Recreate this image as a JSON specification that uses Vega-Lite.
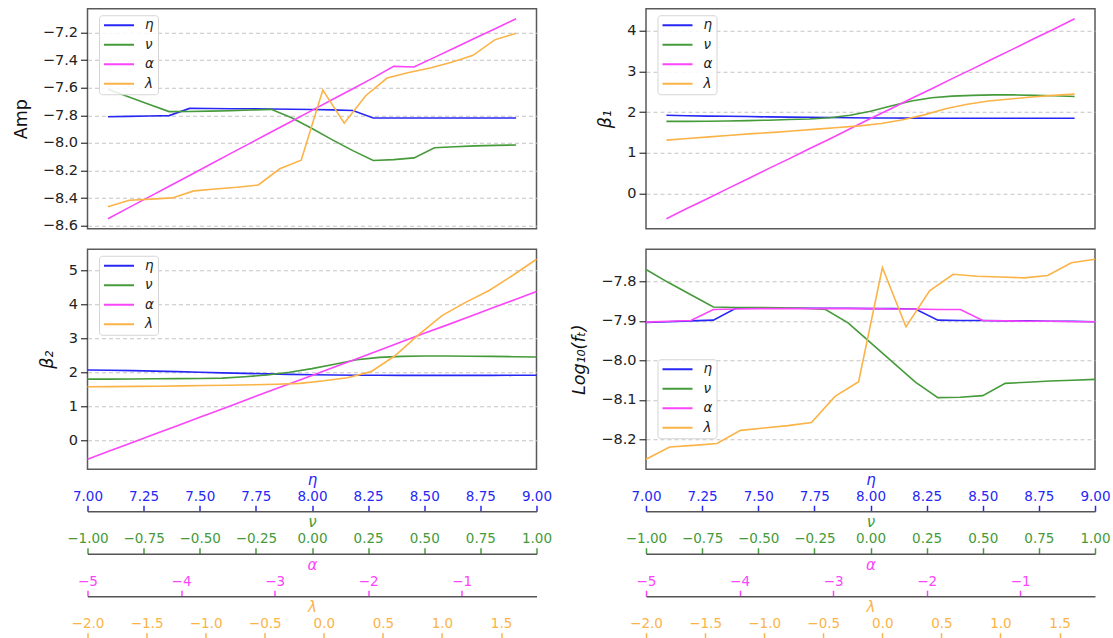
{
  "$schema": "https://vega.github.io/schema/vega-lite/v6.json",
  "background": "white",
  "padding": {"left": 11.5, "top": 7.75, "right": 2, "bottom": 0},
  "config": {
    "font": "DejaVu Sans",
    "view": {"stroke": "#5a5a5a", "strokeWidth": 1.5},
    "axisY": {
      "domain": false, "tickSize": 7, "tickColor": "#333333", "tickWidth": 1.2,
      "labelFontSize": 14.5, "labelColor": "#222222", "labelPadding": 3,
      "grid": true, "gridDash": [4, 3], "gridColor": "#c4c4c4", "gridWidth": 1,
      "titleFontSize": 17.5, "titleFontWeight": "normal", "titleColor": "#111111",
      "titlePadding": 12, "titleFontStyle": "italic"
    },
    "axisX": {
      "labelFontSize": 13.5, "tickSize": 6, "tickWidth": 1.5, "labelPadding": 2,
      "domainColor": "#555555", "domainWidth": 1.5, "grid": false,
      "labelFlush": false, "labelOverlap": false,
      "titleFontSize": 15, "titleFontWeight": "normal", "titleFontStyle": "italic", "titlePadding": 2
    },
    "legend": {
      "title": null, "symbolType": "stroke", "symbolSize": 900, "symbolStrokeWidth": 2,
      "labelFont": "DejaVu Sans", "labelFontStyle": "italic", "labelFontSize": 13.5, "labelColor": "#222222",
      "labelOffset": 10, "padding": 4, "rowPadding": 5.5, "clipHeight": 12,
      "strokeColor": "#d5d5d5", "fillColor": "rgba(255,255,255,0.85)", "cornerRadius": 3
    }
  },
  "datasets": {
    "curves": [
      {"panel":"Amp","series":"η","x":7.0,"y":-7.810},{"panel":"Amp","series":"η","x":7.1,"y":-7.808},{"panel":"Amp","series":"η","x":7.2,"y":-7.805},{"panel":"Amp","series":"η","x":7.3,"y":-7.802},{"panel":"Amp","series":"η","x":7.4,"y":-7.750},{"panel":"Amp","series":"η","x":7.5,"y":-7.751},{"panel":"Amp","series":"η","x":7.6,"y":-7.752},{"panel":"Amp","series":"η","x":7.7,"y":-7.753},{"panel":"Amp","series":"η","x":7.8,"y":-7.754},{"panel":"Amp","series":"η","x":7.9,"y":-7.756},{"panel":"Amp","series":"η","x":8.0,"y":-7.758},{"panel":"Amp","series":"η","x":8.1,"y":-7.761},{"panel":"Amp","series":"η","x":8.2,"y":-7.765},{"panel":"Amp","series":"η","x":8.3,"y":-7.820},{"panel":"Amp","series":"η","x":8.4,"y":-7.820},{"panel":"Amp","series":"η","x":8.5,"y":-7.820},{"panel":"Amp","series":"η","x":8.6,"y":-7.820},{"panel":"Amp","series":"η","x":8.7,"y":-7.820},{"panel":"Amp","series":"η","x":8.8,"y":-7.820},{"panel":"Amp","series":"η","x":8.9,"y":-7.820},{"panel":"Amp","series":"η","x":9.0,"y":-7.820},
      {"panel":"Amp","series":"ν","x":7.0,"y":-7.612},{"panel":"Amp","series":"ν","x":7.1,"y":-7.665},{"panel":"Amp","series":"ν","x":7.2,"y":-7.720},{"panel":"Amp","series":"ν","x":7.3,"y":-7.773},{"panel":"Amp","series":"ν","x":7.4,"y":-7.772},{"panel":"Amp","series":"ν","x":7.5,"y":-7.770},{"panel":"Amp","series":"ν","x":7.6,"y":-7.767},{"panel":"Amp","series":"ν","x":7.7,"y":-7.762},{"panel":"Amp","series":"ν","x":7.8,"y":-7.757},{"panel":"Amp","series":"ν","x":7.9,"y":-7.818},{"panel":"Amp","series":"ν","x":8.0,"y":-7.896},{"panel":"Amp","series":"ν","x":8.1,"y":-7.978},{"panel":"Amp","series":"ν","x":8.2,"y":-8.056},{"panel":"Amp","series":"ν","x":8.3,"y":-8.128},{"panel":"Amp","series":"ν","x":8.4,"y":-8.121},{"panel":"Amp","series":"ν","x":8.5,"y":-8.109},{"panel":"Amp","series":"ν","x":8.6,"y":-8.035},{"panel":"Amp","series":"ν","x":8.7,"y":-8.028},{"panel":"Amp","series":"ν","x":8.8,"y":-8.022},{"panel":"Amp","series":"ν","x":8.9,"y":-8.018},{"panel":"Amp","series":"ν","x":9.0,"y":-8.015},
      {"panel":"Amp","series":"α","x":7.0,"y":-8.550},{"panel":"Amp","series":"α","x":7.1,"y":-8.471},{"panel":"Amp","series":"α","x":7.2,"y":-8.393},{"panel":"Amp","series":"α","x":7.3,"y":-8.314},{"panel":"Amp","series":"α","x":7.4,"y":-8.236},{"panel":"Amp","series":"α","x":7.5,"y":-8.157},{"panel":"Amp","series":"α","x":7.6,"y":-8.078},{"panel":"Amp","series":"α","x":7.7,"y":-8.000},{"panel":"Amp","series":"α","x":7.8,"y":-7.921},{"panel":"Amp","series":"α","x":7.9,"y":-7.843},{"panel":"Amp","series":"α","x":8.0,"y":-7.764},{"panel":"Amp","series":"α","x":8.1,"y":-7.686},{"panel":"Amp","series":"α","x":8.2,"y":-7.607},{"panel":"Amp","series":"α","x":8.3,"y":-7.529},{"panel":"Amp","series":"α","x":8.4,"y":-7.445},{"panel":"Amp","series":"α","x":8.5,"y":-7.450},{"panel":"Amp","series":"α","x":8.6,"y":-7.380},{"panel":"Amp","series":"α","x":8.7,"y":-7.310},{"panel":"Amp","series":"α","x":8.8,"y":-7.240},{"panel":"Amp","series":"α","x":8.9,"y":-7.170},{"panel":"Amp","series":"α","x":9.0,"y":-7.100},
      {"panel":"Amp","series":"λ","x":7.0,"y":-8.463},{"panel":"Amp","series":"λ","x":7.105,"y":-8.416},{"panel":"Amp","series":"λ","x":7.211,"y":-8.408},{"panel":"Amp","series":"λ","x":7.316,"y":-8.399},{"panel":"Amp","series":"λ","x":7.421,"y":-8.348},{"panel":"Amp","series":"λ","x":7.526,"y":-8.334},{"panel":"Amp","series":"λ","x":7.632,"y":-8.322},{"panel":"Amp","series":"λ","x":7.737,"y":-8.305},{"panel":"Amp","series":"λ","x":7.842,"y":-8.188},{"panel":"Amp","series":"λ","x":7.947,"y":-8.126},{"panel":"Amp","series":"λ","x":8.053,"y":-7.617},{"panel":"Amp","series":"λ","x":8.158,"y":-7.857},{"panel":"Amp","series":"λ","x":8.263,"y":-7.658},{"panel":"Amp","series":"λ","x":8.368,"y":-7.530},{"panel":"Amp","series":"λ","x":8.474,"y":-7.490},{"panel":"Amp","series":"λ","x":8.579,"y":-7.457},{"panel":"Amp","series":"λ","x":8.684,"y":-7.416},{"panel":"Amp","series":"λ","x":8.789,"y":-7.365},{"panel":"Amp","series":"λ","x":8.895,"y":-7.253},{"panel":"Amp","series":"λ","x":9.0,"y":-7.205},

      {"panel":"B1","series":"η","x":7.0,"y":1.92},{"panel":"B1","series":"η","x":7.1,"y":1.91},{"panel":"B1","series":"η","x":7.2,"y":1.90},{"panel":"B1","series":"η","x":7.3,"y":1.895},{"panel":"B1","series":"η","x":7.4,"y":1.89},{"panel":"B1","series":"η","x":7.5,"y":1.88},{"panel":"B1","series":"η","x":7.6,"y":1.875},{"panel":"B1","series":"η","x":7.7,"y":1.87},{"panel":"B1","series":"η","x":7.8,"y":1.865},{"panel":"B1","series":"η","x":7.9,"y":1.86},{"panel":"B1","series":"η","x":8.0,"y":1.855},{"panel":"B1","series":"η","x":8.1,"y":1.852},{"panel":"B1","series":"η","x":8.2,"y":1.85},{"panel":"B1","series":"η","x":8.3,"y":1.848},{"panel":"B1","series":"η","x":8.4,"y":1.847},{"panel":"B1","series":"η","x":8.5,"y":1.846},{"panel":"B1","series":"η","x":8.6,"y":1.846},{"panel":"B1","series":"η","x":8.7,"y":1.846},{"panel":"B1","series":"η","x":8.8,"y":1.846},{"panel":"B1","series":"η","x":8.9,"y":1.847},{"panel":"B1","series":"η","x":9.0,"y":1.848},
      {"panel":"B1","series":"ν","x":7.0,"y":1.77},{"panel":"B1","series":"ν","x":7.1,"y":1.77},{"panel":"B1","series":"ν","x":7.2,"y":1.775},{"panel":"B1","series":"ν","x":7.3,"y":1.78},{"panel":"B1","series":"ν","x":7.4,"y":1.79},{"panel":"B1","series":"ν","x":7.5,"y":1.80},{"panel":"B1","series":"ν","x":7.6,"y":1.815},{"panel":"B1","series":"ν","x":7.7,"y":1.83},{"panel":"B1","series":"ν","x":7.8,"y":1.86},{"panel":"B1","series":"ν","x":7.9,"y":1.92},{"panel":"B1","series":"ν","x":8.0,"y":2.02},{"panel":"B1","series":"ν","x":8.1,"y":2.15},{"panel":"B1","series":"ν","x":8.2,"y":2.27},{"panel":"B1","series":"ν","x":8.3,"y":2.35},{"panel":"B1","series":"ν","x":8.4,"y":2.39},{"panel":"B1","series":"ν","x":8.5,"y":2.41},{"panel":"B1","series":"ν","x":8.6,"y":2.42},{"panel":"B1","series":"ν","x":8.7,"y":2.42},{"panel":"B1","series":"ν","x":8.8,"y":2.41},{"panel":"B1","series":"ν","x":8.9,"y":2.40},{"panel":"B1","series":"ν","x":9.0,"y":2.38},
      {"panel":"B1","series":"α","x":7.0,"y":-0.62},{"panel":"B1","series":"α","x":7.1,"y":-0.37},{"panel":"B1","series":"α","x":7.2,"y":-0.13},{"panel":"B1","series":"α","x":7.3,"y":0.12},{"panel":"B1","series":"α","x":7.4,"y":0.36},{"panel":"B1","series":"α","x":7.5,"y":0.61},{"panel":"B1","series":"α","x":7.6,"y":0.85},{"panel":"B1","series":"α","x":7.7,"y":1.10},{"panel":"B1","series":"α","x":7.8,"y":1.34},{"panel":"B1","series":"α","x":7.9,"y":1.59},{"panel":"B1","series":"α","x":8.0,"y":1.84},{"panel":"B1","series":"α","x":8.1,"y":2.08},{"panel":"B1","series":"α","x":8.2,"y":2.33},{"panel":"B1","series":"α","x":8.3,"y":2.57},{"panel":"B1","series":"α","x":8.4,"y":2.82},{"panel":"B1","series":"α","x":8.5,"y":3.06},{"panel":"B1","series":"α","x":8.6,"y":3.31},{"panel":"B1","series":"α","x":8.7,"y":3.55},{"panel":"B1","series":"α","x":8.8,"y":3.80},{"panel":"B1","series":"α","x":8.9,"y":4.04},{"panel":"B1","series":"α","x":9.0,"y":4.29},
      {"panel":"B1","series":"λ","x":7.0,"y":1.31},{"panel":"B1","series":"λ","x":7.105,"y":1.35},{"panel":"B1","series":"λ","x":7.211,"y":1.39},{"panel":"B1","series":"λ","x":7.316,"y":1.43},{"panel":"B1","series":"λ","x":7.421,"y":1.47},{"panel":"B1","series":"λ","x":7.526,"y":1.50},{"panel":"B1","series":"λ","x":7.632,"y":1.54},{"panel":"B1","series":"λ","x":7.737,"y":1.58},{"panel":"B1","series":"λ","x":7.842,"y":1.62},{"panel":"B1","series":"λ","x":7.947,"y":1.66},{"panel":"B1","series":"λ","x":8.053,"y":1.72},{"panel":"B1","series":"λ","x":8.158,"y":1.81},{"panel":"B1","series":"λ","x":8.263,"y":1.93},{"panel":"B1","series":"λ","x":8.368,"y":2.08},{"panel":"B1","series":"λ","x":8.474,"y":2.19},{"panel":"B1","series":"λ","x":8.579,"y":2.27},{"panel":"B1","series":"λ","x":8.684,"y":2.32},{"panel":"B1","series":"λ","x":8.789,"y":2.37},{"panel":"B1","series":"λ","x":8.895,"y":2.41},{"panel":"B1","series":"λ","x":9.0,"y":2.44},

      {"panel":"B2","series":"η","x":7.0,"y":2.07},{"panel":"B2","series":"η","x":7.1,"y":2.06},{"panel":"B2","series":"η","x":7.2,"y":2.05},{"panel":"B2","series":"η","x":7.3,"y":2.035},{"panel":"B2","series":"η","x":7.4,"y":2.02},{"panel":"B2","series":"η","x":7.5,"y":2.00},{"panel":"B2","series":"η","x":7.6,"y":1.985},{"panel":"B2","series":"η","x":7.7,"y":1.97},{"panel":"B2","series":"η","x":7.8,"y":1.955},{"panel":"B2","series":"η","x":7.9,"y":1.94},{"panel":"B2","series":"η","x":8.0,"y":1.93},{"panel":"B2","series":"η","x":8.1,"y":1.92},{"panel":"B2","series":"η","x":8.2,"y":1.915},{"panel":"B2","series":"η","x":8.3,"y":1.912},{"panel":"B2","series":"η","x":8.4,"y":1.91},{"panel":"B2","series":"η","x":8.5,"y":1.91},{"panel":"B2","series":"η","x":8.6,"y":1.91},{"panel":"B2","series":"η","x":8.7,"y":1.91},{"panel":"B2","series":"η","x":8.8,"y":1.91},{"panel":"B2","series":"η","x":8.9,"y":1.912},{"panel":"B2","series":"η","x":9.0,"y":1.915},
      {"panel":"B2","series":"ν","x":7.0,"y":1.80},{"panel":"B2","series":"ν","x":7.1,"y":1.80},{"panel":"B2","series":"ν","x":7.2,"y":1.805},{"panel":"B2","series":"ν","x":7.3,"y":1.81},{"panel":"B2","series":"ν","x":7.4,"y":1.815},{"panel":"B2","series":"ν","x":7.5,"y":1.82},{"panel":"B2","series":"ν","x":7.6,"y":1.83},{"panel":"B2","series":"ν","x":7.7,"y":1.87},{"panel":"B2","series":"ν","x":7.8,"y":1.92},{"panel":"B2","series":"ν","x":7.9,"y":2.00},{"panel":"B2","series":"ν","x":8.0,"y":2.11},{"panel":"B2","series":"ν","x":8.1,"y":2.24},{"panel":"B2","series":"ν","x":8.2,"y":2.37},{"panel":"B2","series":"ν","x":8.3,"y":2.44},{"panel":"B2","series":"ν","x":8.4,"y":2.47},{"panel":"B2","series":"ν","x":8.5,"y":2.48},{"panel":"B2","series":"ν","x":8.6,"y":2.48},{"panel":"B2","series":"ν","x":8.7,"y":2.475},{"panel":"B2","series":"ν","x":8.8,"y":2.47},{"panel":"B2","series":"ν","x":8.9,"y":2.46},{"panel":"B2","series":"ν","x":9.0,"y":2.45},
      {"panel":"B2","series":"α","x":7.0,"y":-0.56},{"panel":"B2","series":"α","x":7.1,"y":-0.31},{"panel":"B2","series":"α","x":7.2,"y":-0.07},{"panel":"B2","series":"α","x":7.3,"y":0.18},{"panel":"B2","series":"α","x":7.4,"y":0.43},{"panel":"B2","series":"α","x":7.5,"y":0.68},{"panel":"B2","series":"α","x":7.6,"y":0.92},{"panel":"B2","series":"α","x":7.7,"y":1.17},{"panel":"B2","series":"α","x":7.8,"y":1.42},{"panel":"B2","series":"α","x":7.9,"y":1.66},{"panel":"B2","series":"α","x":8.0,"y":1.91},{"panel":"B2","series":"α","x":8.1,"y":2.16},{"panel":"B2","series":"α","x":8.2,"y":2.40},{"panel":"B2","series":"α","x":8.3,"y":2.65},{"panel":"B2","series":"α","x":8.4,"y":2.90},{"panel":"B2","series":"α","x":8.5,"y":3.15},{"panel":"B2","series":"α","x":8.6,"y":3.39},{"panel":"B2","series":"α","x":8.7,"y":3.64},{"panel":"B2","series":"α","x":8.8,"y":3.89},{"panel":"B2","series":"α","x":8.9,"y":4.13},{"panel":"B2","series":"α","x":9.0,"y":4.38},
      {"panel":"B2","series":"λ","x":7.0,"y":1.575},{"panel":"B2","series":"λ","x":7.105,"y":1.58},{"panel":"B2","series":"λ","x":7.211,"y":1.585},{"panel":"B2","series":"λ","x":7.316,"y":1.59},{"panel":"B2","series":"λ","x":7.421,"y":1.60},{"panel":"B2","series":"λ","x":7.526,"y":1.61},{"panel":"B2","series":"λ","x":7.632,"y":1.62},{"panel":"B2","series":"λ","x":7.737,"y":1.635},{"panel":"B2","series":"λ","x":7.842,"y":1.65},{"panel":"B2","series":"λ","x":7.947,"y":1.675},{"panel":"B2","series":"λ","x":8.053,"y":1.75},{"panel":"B2","series":"λ","x":8.158,"y":1.84},{"panel":"B2","series":"λ","x":8.263,"y":2.02},{"panel":"B2","series":"λ","x":8.368,"y":2.48},{"panel":"B2","series":"λ","x":8.474,"y":3.10},{"panel":"B2","series":"λ","x":8.579,"y":3.67},{"panel":"B2","series":"λ","x":8.684,"y":4.06},{"panel":"B2","series":"λ","x":8.789,"y":4.41},{"panel":"B2","series":"λ","x":8.895,"y":4.86},{"panel":"B2","series":"λ","x":9.0,"y":5.33},

      {"panel":"Log","series":"η","x":7.0,"y":-7.904},{"panel":"Log","series":"η","x":7.1,"y":-7.902},{"panel":"Log","series":"η","x":7.2,"y":-7.900},{"panel":"Log","series":"η","x":7.3,"y":-7.898},{"panel":"Log","series":"η","x":7.4,"y":-7.868},{"panel":"Log","series":"η","x":7.5,"y":-7.868},{"panel":"Log","series":"η","x":7.6,"y":-7.868},{"panel":"Log","series":"η","x":7.7,"y":-7.868},{"panel":"Log","series":"η","x":7.8,"y":-7.868},{"panel":"Log","series":"η","x":7.9,"y":-7.868},{"panel":"Log","series":"η","x":8.0,"y":-7.869},{"panel":"Log","series":"η","x":8.1,"y":-7.869},{"panel":"Log","series":"η","x":8.2,"y":-7.870},{"panel":"Log","series":"η","x":8.3,"y":-7.898},{"panel":"Log","series":"η","x":8.4,"y":-7.899},{"panel":"Log","series":"η","x":8.5,"y":-7.899},{"panel":"Log","series":"η","x":8.6,"y":-7.900},{"panel":"Log","series":"η","x":8.7,"y":-7.900},{"panel":"Log","series":"η","x":8.8,"y":-7.901},{"panel":"Log","series":"η","x":8.9,"y":-7.901},{"panel":"Log","series":"η","x":9.0,"y":-7.902},
      {"panel":"Log","series":"ν","x":7.0,"y":-7.770},{"panel":"Log","series":"ν","x":7.1,"y":-7.803},{"panel":"Log","series":"ν","x":7.2,"y":-7.834},{"panel":"Log","series":"ν","x":7.3,"y":-7.865},{"panel":"Log","series":"ν","x":7.4,"y":-7.866},{"panel":"Log","series":"ν","x":7.5,"y":-7.866},{"panel":"Log","series":"ν","x":7.6,"y":-7.867},{"panel":"Log","series":"ν","x":7.7,"y":-7.868},{"panel":"Log","series":"ν","x":7.8,"y":-7.871},{"panel":"Log","series":"ν","x":7.9,"y":-7.905},{"panel":"Log","series":"ν","x":8.0,"y":-7.955},{"panel":"Log","series":"ν","x":8.1,"y":-8.005},{"panel":"Log","series":"ν","x":8.2,"y":-8.055},{"panel":"Log","series":"ν","x":8.3,"y":-8.094},{"panel":"Log","series":"ν","x":8.4,"y":-8.093},{"panel":"Log","series":"ν","x":8.5,"y":-8.089},{"panel":"Log","series":"ν","x":8.6,"y":-8.058},{"panel":"Log","series":"ν","x":8.7,"y":-8.055},{"panel":"Log","series":"ν","x":8.8,"y":-8.052},{"panel":"Log","series":"ν","x":8.9,"y":-8.050},{"panel":"Log","series":"ν","x":9.0,"y":-8.048},
      {"panel":"Log","series":"α","x":7.0,"y":-7.903},{"panel":"Log","series":"α","x":7.1,"y":-7.901},{"panel":"Log","series":"α","x":7.2,"y":-7.899},{"panel":"Log","series":"α","x":7.3,"y":-7.871},{"panel":"Log","series":"α","x":7.4,"y":-7.870},{"panel":"Log","series":"α","x":7.5,"y":-7.869},{"panel":"Log","series":"α","x":7.6,"y":-7.869},{"panel":"Log","series":"α","x":7.7,"y":-7.869},{"panel":"Log","series":"α","x":7.8,"y":-7.869},{"panel":"Log","series":"α","x":7.9,"y":-7.869},{"panel":"Log","series":"α","x":8.0,"y":-7.869},{"panel":"Log","series":"α","x":8.1,"y":-7.870},{"panel":"Log","series":"α","x":8.2,"y":-7.870},{"panel":"Log","series":"α","x":8.3,"y":-7.871},{"panel":"Log","series":"α","x":8.4,"y":-7.871},{"panel":"Log","series":"α","x":8.5,"y":-7.899},{"panel":"Log","series":"α","x":8.6,"y":-7.900},{"panel":"Log","series":"α","x":8.7,"y":-7.901},{"panel":"Log","series":"α","x":8.8,"y":-7.901},{"panel":"Log","series":"α","x":8.9,"y":-7.902},{"panel":"Log","series":"α","x":9.0,"y":-7.902},
      {"panel":"Log","series":"λ","x":7.0,"y":-8.250},{"panel":"Log","series":"λ","x":7.105,"y":-8.219},{"panel":"Log","series":"λ","x":7.211,"y":-8.215},{"panel":"Log","series":"λ","x":7.316,"y":-8.210},{"panel":"Log","series":"λ","x":7.421,"y":-8.177},{"panel":"Log","series":"λ","x":7.526,"y":-8.171},{"panel":"Log","series":"λ","x":7.632,"y":-8.165},{"panel":"Log","series":"λ","x":7.737,"y":-8.157},{"panel":"Log","series":"λ","x":7.842,"y":-8.091},{"panel":"Log","series":"λ","x":7.947,"y":-8.054},{"panel":"Log","series":"λ","x":8.053,"y":-7.765},{"panel":"Log","series":"λ","x":8.158,"y":-7.915},{"panel":"Log","series":"λ","x":8.263,"y":-7.824},{"panel":"Log","series":"λ","x":8.368,"y":-7.782},{"panel":"Log","series":"λ","x":8.474,"y":-7.787},{"panel":"Log","series":"λ","x":8.579,"y":-7.789},{"panel":"Log","series":"λ","x":8.684,"y":-7.791},{"panel":"Log","series":"λ","x":8.789,"y":-7.785},{"panel":"Log","series":"λ","x":8.895,"y":-7.753},{"panel":"Log","series":"λ","x":9.0,"y":-7.744}
    ]
  },
  "columns": 2,
  "bounds": "flush",
  "align": "each",
  "spacing": {"row": 20.5, "column": 109.5},
  "resolve": {"scale": {"x": "independent", "y": "independent", "color": "independent"}, "legend": {"color": "independent"}},
  "concat": [
    {
      "width": 449, "height": 220,
      "data": {"name": "curves"},
      "transform": [{"filter": "datum.panel === 'Amp'"}],
      "mark": {"type": "line", "strokeWidth": 1.6},
      "encoding": {
        "x": {"field": "x", "type": "quantitative", "scale": {"domain": [6.9, 9.1], "nice": false, "zero": false}, "axis": null},
        "y": {"field": "y", "type": "quantitative", "scale": {"domain": [-8.6225, -7.0275], "nice": false, "zero": false},
              "axis": {"title": "Amp", "titleFontStyle": "normal", "values": [-8.6, -8.4, -8.2, -8.0, -7.8, -7.6, -7.4, -7.2], "format": ".1f"}},
        "color": {"field": "series", "type": "nominal",
                  "scale": {"domain": ["η", "ν", "α", "λ"], "range": ["#2727f5", "#459a3a", "#fa45fa", "#fbb347"]},
                  "legend": {"orient": "none", "legendX": 11.5, "legendY": 6.5}}
      }
    },
    {
      "width": 449, "height": 220,
      "data": {"name": "curves"},
      "transform": [{"filter": "datum.panel === 'B1'"}],
      "mark": {"type": "line", "strokeWidth": 1.6},
      "encoding": {
        "x": {"field": "x", "type": "quantitative", "scale": {"domain": [6.9, 9.1], "nice": false, "zero": false}, "axis": null},
        "y": {"field": "y", "type": "quantitative", "scale": {"domain": [-0.8655, 4.5355], "nice": false, "zero": false},
              "axis": {"title": "β₁", "values": [0, 1, 2, 3, 4], "format": "d"}},
        "color": {"field": "series", "type": "nominal",
                  "scale": {"domain": ["η", "ν", "α", "λ"], "range": ["#2727f5", "#459a3a", "#fa45fa", "#fbb347"]},
                  "legend": {"orient": "none", "legendX": 11.5, "legendY": 6.5}}
      }
    },
    {
      "width": 449, "height": 220,
      "data": {"name": "curves"},
      "transform": [{"filter": "datum.panel === 'B2'"}],
      "mark": {"type": "line", "strokeWidth": 1.6},
      "encoding": {
        "x": {"field": "x", "type": "quantitative", "scale": {"domain": [7, 9], "nice": false, "zero": false}, "axis": null},
        "y": {"field": "y", "type": "quantitative", "scale": {"domain": [-0.8545, 5.6245], "nice": false, "zero": false},
              "axis": {"title": "β₂", "values": [0, 1, 2, 3, 4, 5], "format": "d"}},
        "color": {"field": "series", "type": "nominal",
                  "scale": {"domain": ["η", "ν", "α", "λ"], "range": ["#2727f5", "#459a3a", "#fa45fa", "#fbb347"]},
                  "legend": {"orient": "none", "legendX": 11.5, "legendY": 6.5}}
      }
    },
    {
      "width": 449, "height": 220,
      "data": {"name": "curves"},
      "transform": [{"filter": "datum.panel === 'Log'"}],
      "mark": {"type": "line", "strokeWidth": 1.6},
      "encoding": {
        "x": {"field": "x", "type": "quantitative", "scale": {"domain": [7, 9], "nice": false, "zero": false}, "axis": null},
        "y": {"field": "y", "type": "quantitative", "scale": {"domain": [-8.2753, -7.7187], "nice": false, "zero": false},
              "axis": {"title": "Log₁₀(fₜ)", "values": [-8.2, -8.1, -8.0, -7.9, -7.8], "format": ".1f"}},
        "color": {"field": "series", "type": "nominal",
                  "scale": {"domain": ["η", "ν", "α", "λ"], "range": ["#2727f5", "#459a3a", "#fa45fa", "#fbb347"]},
                  "legend": {"orient": "none", "legendX": 11.5, "legendY": 110}}
      }
    },
    {
      "width": 449, "height": 21.2, "view": {"stroke": null},
      "data": {"values": [{"eta": 7}, {"eta": 9}]},
      "mark": {"type": "point", "opacity": 0},
      "encoding": {"x": {"field": "eta", "type": "quantitative", "scale": {"domain": [7, 9], "nice": false, "zero": false},
        "axis": {"orient": "top", "offset": -21.5, "title": "η", "values": [7, 7.25, 7.5, 7.75, 8, 8.25, 8.5, 8.75, 9], "format": ".2f",
                 "titleColor": "#2727f5", "labelColor": "#2727f5", "tickColor": "#2727f5"}}}
    },
    {
      "width": 449, "height": 21.2, "view": {"stroke": null},
      "data": {"values": [{"eta": 7}, {"eta": 9}]},
      "mark": {"type": "point", "opacity": 0},
      "encoding": {"x": {"field": "eta", "type": "quantitative", "scale": {"domain": [7, 9], "nice": false, "zero": false},
        "axis": {"orient": "top", "offset": -21.5, "title": "η", "values": [7, 7.25, 7.5, 7.75, 8, 8.25, 8.5, 8.75, 9], "format": ".2f",
                 "titleColor": "#2727f5", "labelColor": "#2727f5", "tickColor": "#2727f5"}}}
    },
    {
      "width": 449, "height": 21.2, "view": {"stroke": null},
      "data": {"values": [{"nu": -1}, {"nu": 1}]},
      "mark": {"type": "point", "opacity": 0},
      "encoding": {"x": {"field": "nu", "type": "quantitative", "scale": {"domain": [-1, 1], "nice": false, "zero": false},
        "axis": {"orient": "top", "offset": -21.5, "title": "ν", "values": [-1, -0.75, -0.5, -0.25, 0, 0.25, 0.5, 0.75, 1], "format": ".2f",
                 "titleColor": "#459a3a", "labelColor": "#459a3a", "tickColor": "#459a3a"}}}
    },
    {
      "width": 449, "height": 21.2, "view": {"stroke": null},
      "data": {"values": [{"nu": -1}, {"nu": 1}]},
      "mark": {"type": "point", "opacity": 0},
      "encoding": {"x": {"field": "nu", "type": "quantitative", "scale": {"domain": [-1, 1], "nice": false, "zero": false},
        "axis": {"orient": "top", "offset": -21.5, "title": "ν", "values": [-1, -0.75, -0.5, -0.25, 0, 0.25, 0.5, 0.75, 1], "format": ".2f",
                 "titleColor": "#459a3a", "labelColor": "#459a3a", "tickColor": "#459a3a"}}}
    },
    {
      "width": 449, "height": 21.2, "view": {"stroke": null},
      "data": {"values": [{"alpha": -5}, {"alpha": -0.2}]},
      "mark": {"type": "point", "opacity": 0},
      "encoding": {"x": {"field": "alpha", "type": "quantitative", "scale": {"domain": [-5, -0.2], "nice": false, "zero": false},
        "axis": {"orient": "top", "offset": -21.5, "title": "α", "values": [-5, -4, -3, -2, -1], "format": "d",
                 "titleColor": "#fa45fa", "labelColor": "#fa45fa", "tickColor": "#fa45fa"}}}
    },
    {
      "width": 449, "height": 21.2, "view": {"stroke": null},
      "data": {"values": [{"alpha": -5}, {"alpha": -0.2}]},
      "mark": {"type": "point", "opacity": 0},
      "encoding": {"x": {"field": "alpha", "type": "quantitative", "scale": {"domain": [-5, -0.2], "nice": false, "zero": false},
        "axis": {"orient": "top", "offset": -21.5, "title": "α", "values": [-5, -4, -3, -2, -1], "format": "d",
                 "titleColor": "#fa45fa", "labelColor": "#fa45fa", "tickColor": "#fa45fa"}}}
    },
    {
      "width": 449, "height": 21.2, "view": {"stroke": null},
      "data": {"values": [{"lam": -2}, {"lam": 1.8}]},
      "mark": {"type": "point", "opacity": 0},
      "encoding": {"x": {"field": "lam", "type": "quantitative", "scale": {"domain": [-2, 1.8], "nice": false, "zero": false},
        "axis": {"orient": "top", "offset": -21.5, "title": "λ", "values": [-2, -1.5, -1, -0.5, 0, 0.5, 1, 1.5], "format": ".1f",
                 "titleColor": "#fbb347", "labelColor": "#fbb347", "tickColor": "#fbb347"}}}
    },
    {
      "width": 449, "height": 21.2, "view": {"stroke": null},
      "data": {"values": [{"lam": -2}, {"lam": 1.8}]},
      "mark": {"type": "point", "opacity": 0},
      "encoding": {"x": {"field": "lam", "type": "quantitative", "scale": {"domain": [-2, 1.8], "nice": false, "zero": false},
        "axis": {"orient": "top", "offset": -21.5, "title": "λ", "values": [-2, -1.5, -1, -0.5, 0, 0.5, 1, 1.5], "format": ".1f",
                 "titleColor": "#fbb347", "labelColor": "#fbb347", "tickColor": "#fbb347"}}}
    }
  ]
}
